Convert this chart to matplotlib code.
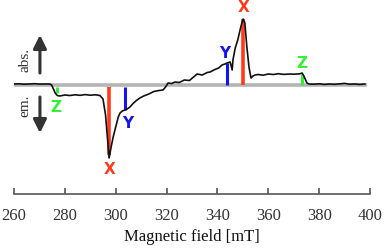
"""EPR-style spectrum with X/Y/Z canonical-orientation markers."""

import matplotlib

matplotlib.use("Agg")
import matplotlib.pyplot as plt

# trace (field in mT, signal in arbitrary units; 0 = baseline)
FIELD = [260, 262, 264, 266, 268, 270, 272, 274, 274.8, 275.5, 276.2, 277, 278,
         280, 282, 284, 286, 288, 290, 292, 293.8, 295, 296, 297.4, 298.2, 299,
         300, 301, 301.7, 302.6, 303.6, 304.5, 305.6, 307, 308.4, 309.5, 311,
         313, 315, 317, 318.6, 319.6, 320.6, 322, 323.3, 325, 327, 329, 332,
         334, 336, 337.1, 339, 340.5, 341.8, 343, 343.8, 345, 345.8, 346.1, 347,
         348, 348.9, 349.6, 350.1, 350.8, 351.5, 352.4, 353.2, 354, 354.8, 356,
         358, 360, 362, 364, 366, 368.5, 370, 372.5, 373.3, 374, 375.2, 376,
         378, 380, 382, 384, 386, 388, 390, 392, 394, 396, 398]
SIGNAL = [1, 1.2, 0.8, 1, 1.3, 0.9, 1, 1, 0, -4, -8, -10.5, -11,
          -10, -10.5, -9.8, -10.3, -9.6, -10.2, -9.8, -10.5, -14, -30, -73, -62, -52,
          -42, -32, -28, -26, -25, -24, -22, -18, -15, -13, -11,
          -9, -6.5, -5.5, -5, -2, 2, 1.5, 3, 2.5, 5, 4.5, 11,
          10, 12.5, 13, 15.5, 17, 20, 21, 22, 23, 15, 25, 37,
          45, 55, 62, 66, 62, 40, 18, 7, 9, 10, 10.5,
          9.8, 11, 10.5, 11.3, 10.6, 11, 10.8, 11.2, 12, 9, 2, 1,
          0.8, 1.2, 0.6, 1, 0.7, 1.1, 1.6, 0.8, 1, 0.6, 1]

# canonical orientation positions (mT) and where each marker stops
MARK_FIELD = [297.4, 303.6, 276.9, 350.1, 343.8, 373.3]
MARK_END = [-70, -25, -8, 66, 22, 11]
MARK_NAME = ["X", "Y", "Z", "X", "Y", "Z"]
LABEL_Y = [-84, -38, -22, 77, 32, 22]
LABEL_DX = [0, 1, -0.6, 0, -1.1, 0]

COLORS = {"X": "#ff3a1a", "Y": "#1414f0", "Z": "#33f033"}

fig = plt.figure(figsize=(3.84, 2.48), dpi=100)
ax = fig.add_axes([14 / 384, 1 - 194 / 248, 356 / 384, 194 / 248])

ax.axhline(0, xmin=-0.002, xmax=0.986, color="#b4b4b4", lw=2.6, zorder=1)
ax.plot(FIELD, SIGNAL, color="#111111", lw=1.2, zorder=3)

for f, end, name, ly, dx in zip(MARK_FIELD, MARK_END, MARK_NAME, LABEL_Y, LABEL_DX):
    lw = 2.6 if name == "X" else 2.2
    ax.plot([f, f], [-2 if end < 0 else 0, end], color=COLORS[name], lw=lw,
            solid_capstyle="butt", zorder=2)
    ax.text(f + dx, ly, name, color=COLORS[name], fontsize=11, fontweight="bold",
            family="DejaVu Sans", ha="center", va="center")

# absorption / emission arrows
arrow = dict(arrowstyle="-|>,head_length=0.8,head_width=0.4", color="#333333",
             lw=2.2, shrinkA=0, shrinkB=0)
ax.annotate("", xy=(270.2, 50), xytext=(270.2, 12), arrowprops=arrow)
ax.annotate("", xy=(270.2, -48), xytext=(270.2, -12), arrowprops=arrow)
ax.text(264.3, 25, "abs.", rotation=90, ha="center", va="center",
        family="Liberation Serif", fontsize=11, color="#333333")
ax.text(264.3, -21, "em.", rotation=90, ha="center", va="center",
        family="Liberation Serif", fontsize=11, color="#333333")

ax.set_xlim(260, 400)
ax.set_ylim(-109, 85)
ax.set_xticks(range(260, 401, 20))
ax.set_yticks([])
for side in ("top", "right", "left"):
    ax.spines[side].set_visible(False)
ax.spines["bottom"].set_color("#555555")
ax.spines["bottom"].set_linewidth(1.2)
ax.tick_params(axis="x", direction="in", length=4, width=1.2, color="#555555",
               labelsize=12, labelcolor="#333333", pad=10)
for lab in ax.get_xticklabels():
    lab.set_family("Liberation Serif")
ax.set_xlabel("Magnetic field [mT]", family="Liberation Serif", fontsize=12,
              color="#111111", labelpad=4)

fig.savefig("out.png", dpi=100)
